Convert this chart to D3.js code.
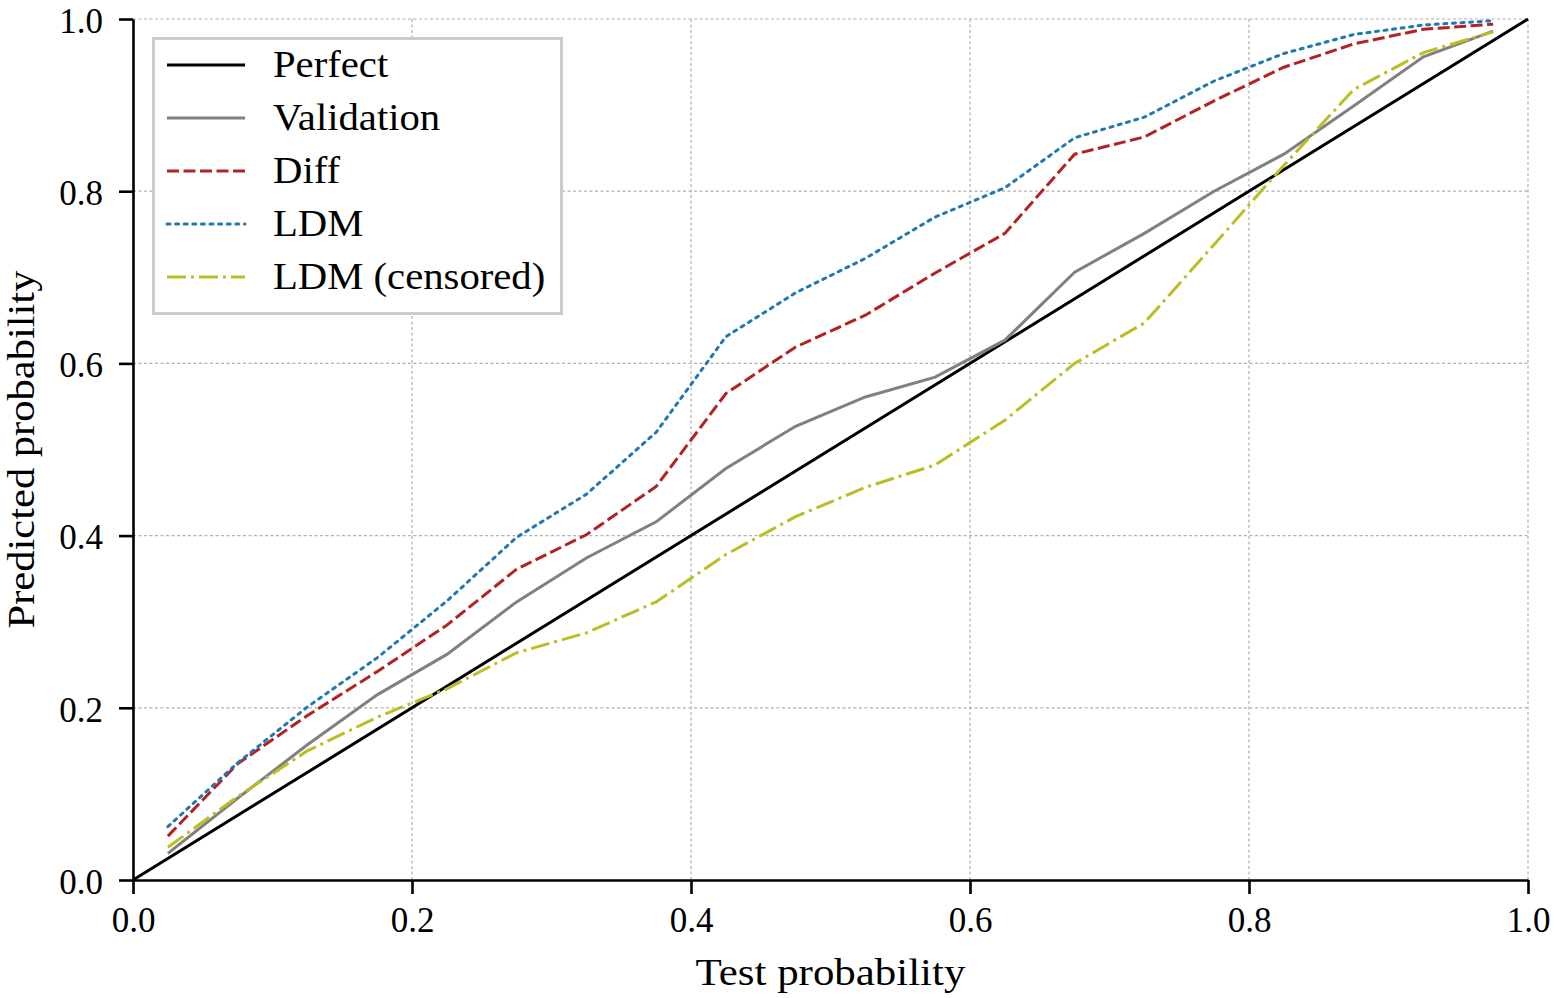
<!DOCTYPE html>
<html>
<head>
<meta charset="utf-8">
<script src="https://cdn.jsdelivr.net/npm/d3@7"></script>
<style>
    body { margin: 0; background: #fff; }
    svg { display: block; }
    text { font-family: "Liberation Serif", "DejaVu Serif", serif; fill: #000; }
</style>
</head>
<body>
<svg id="main_svg" width="1559" height="998"></svg>
<script>
// bin centres (test probability)
var bins = [0.025, 0.075, 0.125, 0.175, 0.225, 0.275, 0.325, 0.375, 0.425, 0.475,
            0.525, 0.575, 0.625, 0.675, 0.725, 0.775, 0.825, 0.875, 0.925, 0.975];

var validation = [0.031, 0.095, 0.157, 0.215, 0.262, 0.323, 0.374, 0.416, 0.478, 0.527,
                  0.561, 0.584, 0.627, 0.706, 0.751, 0.800, 0.843, 0.899, 0.956, 0.986];
var diff = [0.051, 0.135, 0.191, 0.242, 0.296, 0.361, 0.401, 0.457, 0.565, 0.619,
            0.656, 0.705, 0.751, 0.843, 0.863, 0.905, 0.944, 0.971, 0.988, 0.994];
var ldm = [0.062, 0.136, 0.201, 0.258, 0.324, 0.398, 0.448, 0.520, 0.631, 0.682,
           0.722, 0.770, 0.804, 0.862, 0.886, 0.928, 0.960, 0.982, 0.993, 0.998];
var ldm_censored = [0.038, 0.097, 0.150, 0.189, 0.222, 0.264, 0.287, 0.323, 0.378, 0.422,
                    0.456, 0.482, 0.534, 0.600, 0.647, 0.738, 0.830, 0.918, 0.961, 0.985];

var perfect_x = [0, 1];
var perfect_y = [0, 1];

var tick_values = [0, 0.2, 0.4, 0.6, 0.8, 1.0];

var series = [
    {name: "Perfect",         xs: perfect_x, ys: perfect_y,    color: "#000000", dash: null,       cap: "butt"},
    {name: "Validation",      xs: bins,      ys: validation,   color: "#808080", dash: null,       cap: "butt"},
    {name: "Diff",            xs: bins,      ys: diff,         color: "#b22222", dash: "12,4.5",   cap: "butt"},
    {name: "LDM",             xs: bins,      ys: ldm,          color: "#1f77b4", dash: "3,5.6",    cap: "round"},
    {name: "LDM (censored)",  xs: bins,      ys: ldm_censored, color: "#bcbd22", dash: "19,5,3,5", cap: "butt"}
];

var svg = d3.select("#main_svg"),
    margin = {top: 19, left: 133, bottom: 118, right: 31},
    width = 1559,
    height = 998;

var x = d3.scaleLinear()
    .domain([0, 1])
    .range([margin.left, width - margin.right]);

var y = d3.scaleLinear()
    .domain([0, 1])
    .range([height - margin.bottom, margin.top]);

//grid-------------------------------------------------------------
var grid = svg.append("g").attr("class", "grid");

grid.selectAll(".gx")
    .data(tick_values.slice(1))
    .enter().append("line")
    .attr("x1", d => x(d)).attr("x2", d => x(d))
    .attr("y1", y(0)).attr("y2", y(1))
    .attr("stroke", "#b0b0b0")
    .attr("stroke-width", 1.2)
    .attr("stroke-dasharray", "3,2.5");

grid.selectAll(".gy")
    .data(tick_values.slice(1))
    .enter().append("line")
    .attr("y1", d => y(d)).attr("y2", d => y(d))
    .attr("x1", x(0)).attr("x2", x(1))
    .attr("stroke", "#b0b0b0")
    .attr("stroke-width", 1.2)
    .attr("stroke-dasharray", "3,2.5");

//lines------------------------------------------------------------
var line = d3.line()
    .x(d => x(d[0]))
    .y(d => y(d[1]));

svg.selectAll(".series")
    .data(series)
    .enter().append("path")
    .attr("class", "series")
    .attr("d", s => line(s.xs.map((v, i) => [v, s.ys[i]])))
    .attr("fill", "none")
    .attr("stroke", s => s.color)
    .attr("stroke-width", 3)
    .attr("stroke-linecap", s => s.cap)
    .attr("stroke-dasharray", s => s.dash);

//axes-------------------------------------------------------------
var xAxis = svg.append("g")
    .attr("class", "x-axis")
    .attr("transform", `translate(0,${y(0)})`)
    .call(d3.axisBottom(x).tickValues(tick_values).tickFormat(d3.format(".1f"))
        .tickSize(14).tickPadding(12).tickSizeOuter(0));

var yAxis = svg.append("g")
    .attr("class", "y-axis")
    .attr("transform", `translate(${x(0)},0)`)
    .call(d3.axisLeft(y).tickValues(tick_values).tickFormat(d3.format(".1f"))
        .tickSize(14).tickPadding(16).tickSizeOuter(0));

svg.selectAll(".x-axis path, .y-axis path")
    .attr("stroke", "#000")
    .attr("stroke-width", 2.6);
svg.selectAll(".x-axis line, .y-axis line")
    .attr("stroke", "#000")
    .attr("stroke-width", 2.6);
svg.selectAll(".x-axis text, .y-axis text")
    .attr("font-family", "Liberation Serif")
    .attr("font-size", "35px")
    .attr("fill", "#000");
// push y labels down a touch so the top one stays inside the page
svg.selectAll(".y-axis text")
    .attr("dy", "0.38em");
svg.selectAll(".x-axis text")
    .attr("dy", "0.74em");

// computer modern is wider than times, so stretch a bit
svg.append("text")
    .attr("transform", `translate(${(x(0) + x(1)) / 2},985) scale(1.16,1)`)
    .attr("text-anchor", "middle")
    .attr("font-size", "37px")
    .text("Test probability");

svg.append("text")
    .attr("transform", `translate(34,${(y(0) + y(1)) / 2}) rotate(-90) scale(1.15,1)`)
    .attr("text-anchor", "middle")
    .attr("font-size", "37px")
    .text("Predicted probability");

//legend-----------------------------------------------------------
var legend = svg.append("g").attr("class", "legend");

legend.append("rect")
    .attr("x", 153.5).attr("y", 38.5)
    .attr("width", 408).attr("height", 275)
    .attr("fill", "#fff")
    .attr("stroke", "#cccccc")
    .attr("stroke-width", 3);

var rows = legend.selectAll(".row")
    .data(series)
    .enter().append("g")
    .attr("class", "row")
    .attr("transform", (d, i) => `translate(0,${65 + i * 53})`);

rows.append("line")
    .attr("x1", 167).attr("x2", 245)
    .attr("y1", 0).attr("y2", 0)
    .attr("stroke", d => d.color)
    .attr("stroke-width", 3)
    .attr("stroke-linecap", d => d.cap)
    .attr("stroke-dasharray", d => d.dash);

rows.append("text")
    .attr("transform", "translate(273,12) scale(1.1,1)")
    .attr("font-size", "37px")
    .text(d => d.name);
</script>
</body>
</html>
